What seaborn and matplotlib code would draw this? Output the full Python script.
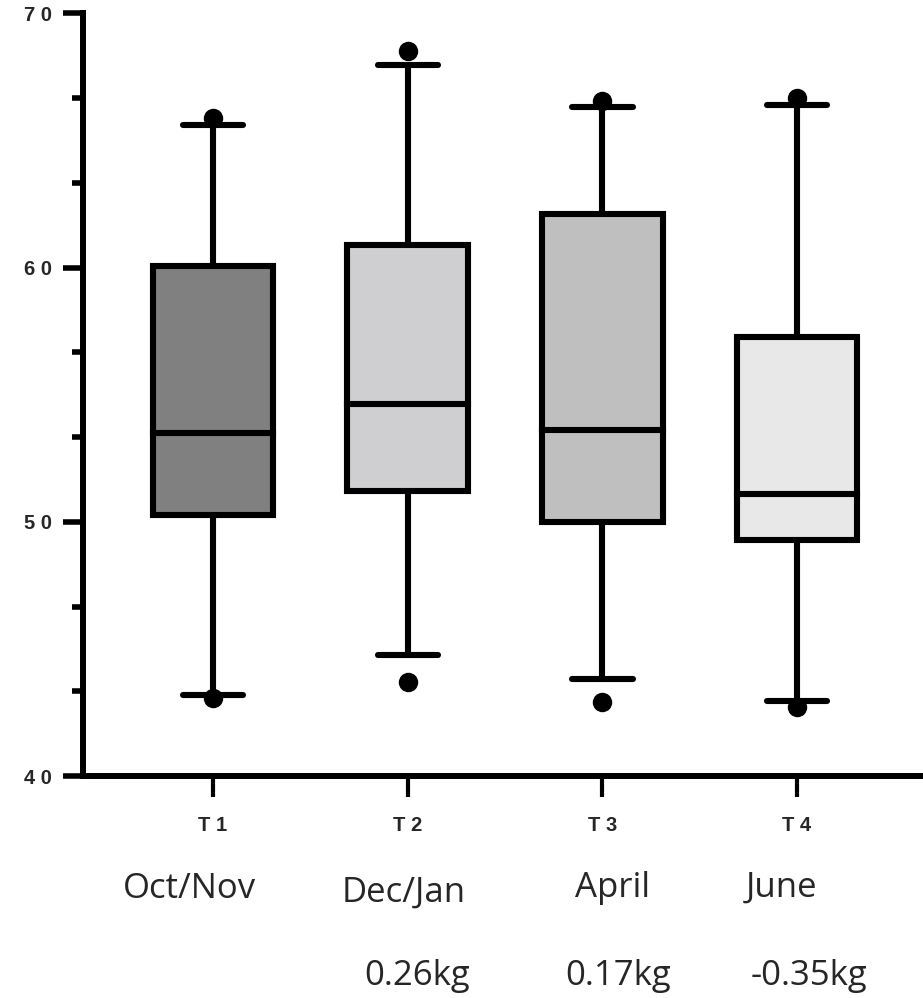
import numpy as np
import pandas as pd
import matplotlib
matplotlib.use("Agg")
import matplotlib.pyplot as plt
import matplotlib.transforms as mtransforms
from matplotlib.ticker import FixedLocator
import seaborn as sns

# ------------------------------------------------------------
# Data (box summary per time point)
# ------------------------------------------------------------
categories = ["T 1", "T 2", "T 3", "T 4"]
whisker_low = [43.2, 44.75, 43.8, 42.95]
q1 = [50.25, 51.2, 50.0, 49.3]
median = [53.5, 54.65, 53.6, 51.1]
q3 = [60.05, 60.9, 62.1, 57.25]
whisker_high = [65.6, 67.95, 66.3, 66.4]

# separate extreme points shown as dots
dot_high = [65.9, 68.5, 66.55, 66.65]
dot_low = [43.05, 43.7, 42.9, 42.7]

month_labels = ["Oct/Nov", "Dec/Jan", "April", "June"]
change_labels = ["", "0.26kg", "0.17kg", "-0.35kg"]

box_colors = ["#808080", "#cfcfd1", "#bfbfbf", "#e8e8e8"]
ytick_values = [40, 50, 60, 70]
ytick_labels = ["4 0", "5 0", "6 0", "7 0"]

# five values per group give exactly these quartiles with linear percentiles
rows = []
for cat, lo, a, m, b, hi in zip(categories, whisker_low, q1, median, q3, whisker_high):
    for v in (lo, a, m, b, hi):
        rows.append({"group": cat, "value": v})
box_df = pd.DataFrame(rows)

dots_df = pd.DataFrame({
    "group": categories * 2,
    "value": dot_high + dot_low,
})

# ------------------------------------------------------------
# Plot
# ------------------------------------------------------------
sns.set_style("white")
plt.rcParams["font.family"] = ["Liberation Sans", "DejaVu Sans"]

fig = plt.figure(figsize=(9.23, 9.98), dpi=100)
ax = fig.add_axes([83 / 923, 1 - 776 / 998, 1 - 83 / 923, (776 - 13.3) / 998])

lw = 4.4
sns.boxplot(
    data=box_df, x="group", y="value", hue="group", order=categories,
    palette=box_colors, legend=False, width=0.62, whis=np.inf,
    linecolor="black", linewidth=lw, ax=ax,
    boxprops=dict(joinstyle="miter"),
    whiskerprops=dict(solid_capstyle="butt"),
    capprops=dict(solid_capstyle="round"),
    medianprops=dict(solid_capstyle="projecting"),
)
sns.stripplot(
    data=dots_df, x="group", y="value", order=categories, jitter=False,
    color="black", size=14, linewidth=0, ax=ax, zorder=3,
)

ax.set_xlim(-0.668, 3.647)
ax.set_ylim(40, 70)
ax.set_xlabel("")
ax.set_ylabel("")

for side in ("top", "right"):
    ax.spines[side].set_visible(False)
for side in ("left", "bottom"):
    ax.spines[side].set_linewidth(4.3)
    ax.spines[side].set_color("black")
    ax.spines[side].set_capstyle("projecting")

ax.set_yticks(ytick_values)
ax.set_yticklabels(ytick_labels, fontsize=14.5, fontweight="bold")
minor = [40 + k * 10 / 3 for k in range(10) if k % 3 != 0]
ax.yaxis.set_minor_locator(FixedLocator(minor))
ax.tick_params(axis="y", which="major", length=14.5, width=4, color="black", pad=8,
               left=True)
ax.tick_params(axis="y", which="minor", length=8, width=4, color="black", left=True)
ax.tick_params(axis="x", which="major", length=15, width=3, color="black", pad=14,
               bottom=True, labelsize=14.5)
for lab in ax.get_xticklabels():
    lab.set_fontweight("bold")

# month and weight-change annotations under the axis
trans = mtransforms.blended_transform_factory(ax.transData, fig.transFigure)
month_dx = [-0.12, -0.02, 0.05, -0.08]
month_y = [898, 902, 897, 897]
for i, (txt, dx, py) in enumerate(zip(month_labels, month_dx, month_y)):
    ax.text(i + dx, 1 - py / 998, txt, transform=trans, ha="center", va="baseline",
            fontsize=25, family=["Open Sans", "DejaVu Sans"], clip_on=False)
change_dx = [0.0, 0.05, 0.08, 0.06]
for i, (txt, dx) in enumerate(zip(change_labels, change_dx)):
    if txt:
        ax.text(i + dx, 1 - 985 / 998, txt, transform=trans, ha="center", va="baseline",
                fontsize=25, family=["Open Sans", "DejaVu Sans"], clip_on=False)

fig.savefig("out.png", dpi=100)
